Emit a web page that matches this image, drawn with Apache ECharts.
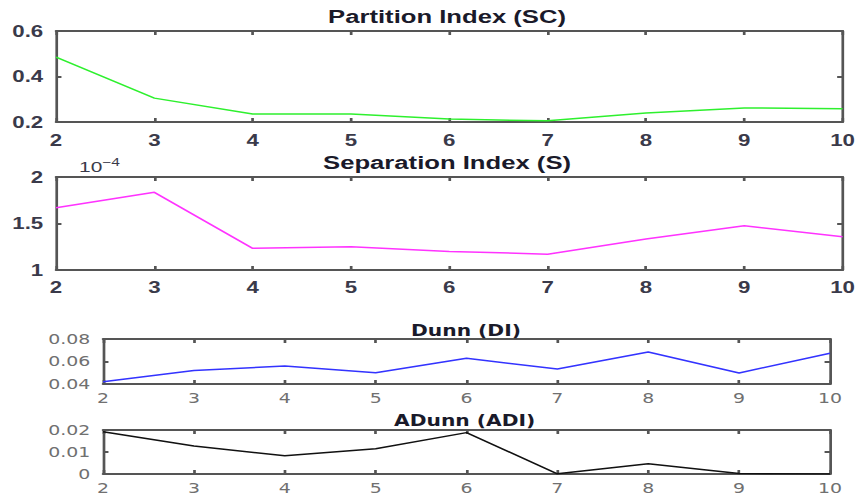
<!DOCTYPE html>
<html><head><meta charset="utf-8">
<script src="https://cdn.jsdelivr.net/npm/echarts@6/dist/echarts.min.js"></script>
<style>
html,body{margin:0;padding:0;background:#fff;overflow:hidden}
#wrap{width:859px;height:502px;overflow:hidden}
#c{width:636px;height:502px;transform:scaleX(1.35063);transform-origin:0 0}
</style>
</head><body><div id="wrap"><div id="c"></div></div>
<script>
const clusters = [2,3,4,5,6,7,8,9,10];
const partitionSC = [0.485,0.305,0.235,0.235,0.213,0.205,0.24,0.262,0.258];
const separationS_e4 = [1.67,1.835,1.233,1.25,1.20,1.17,1.333,1.476,1.358]; // ×10^-4
const dunnDI = [0.042,0.052,0.056,0.050,0.0628,0.0533,0.0684,0.0498,0.0673];
const adunnADI = [0.0192,0.0127,0.0083,0.0115,0.0188,0.0001,0.0047,0.0002,0.0];
const titles = ['Partition Index (SC)','Separation Index (S)','Dunn (DI)','ADunn (ADI)'];
const expLabel = ['10','−4'];

const chart = echarts.init(document.getElementById('c'), null, {renderer:'svg'});
const frame = '#555555';
const topFont = 'Liberation Sans, Arial, sans-serif';
const botFont = 'DejaVu Sans, sans-serif';
const panels = [
  {grid:{left:41.5,right:11,top:31,height:91}, y:[0.2,0.6,0.2], data:partitionSC, color:'#2ef02e',
   label:{fontSize:16.5,color:'#3a3a4a',fontWeight:'bold',fontFamily:topFont}, xm:10, fmt:v=>v.toFixed(1)},
  {grid:{left:41.5,right:11,top:177,height:93}, y:[1,2,0.5], data:separationS_e4, color:'#ff33ff',
   label:{fontSize:16.5,color:'#3a3a4a',fontWeight:'bold',fontFamily:topFont}, xm:9, fmt:v=>String(v)},
  {grid:{left:76.3,right:21.5,top:339,height:45}, y:[0.04,0.08,0.02], data:dunnDI, color:'#3333ff',
   label:{fontSize:14,color:'#707070',fontWeight:'normal',fontFamily:botFont}, xm:7, fmt:v=>v.toFixed(2)},
  {grid:{left:76.3,right:21.5,top:430,height:44}, y:[0,0.02,0.01], data:adunnADI, color:'#111',
   label:{fontSize:14,color:'#707070',fontWeight:'normal',fontFamily:botFont}, xm:7, fmt:v=>v===0?'0':v.toFixed(2)}
];
const grid=[], xAxis=[], yAxis=[], series=[];
panels.forEach((p,i)=>{
  grid.push(Object.assign({containLabel:false}, p.grid));
  const line = {show:true, onZero:false, lineStyle:{color:frame,width:2}};
  const tick = {show:true, inside:true, length:4, lineStyle:{color:frame,width:2}};
  xAxis.push({type:'value', gridIndex:i, min:2, max:10, interval:1, position:'bottom',
    axisLine:line, axisTick:tick, splitLine:{show:false},
    axisLabel:Object.assign({margin:p.xm}, p.label)});
  xAxis.push({type:'value', gridIndex:i, min:2, max:10, interval:1, position:'top',
    axisLine:line, axisTick:tick, splitLine:{show:false}, axisLabel:{show:false}});
  yAxis.push({type:'value', gridIndex:i, min:p.y[0], max:p.y[1], interval:p.y[2], position:'left',
    axisLine:line, axisTick:tick, splitLine:{show:false},
    axisLabel:Object.assign({margin:9.5, formatter:p.fmt}, p.label)});
  yAxis.push({type:'value', gridIndex:i, min:p.y[0], max:p.y[1], interval:p.y[2], position:'right',
    axisLine:line, axisTick:tick, splitLine:{show:false}, axisLabel:{show:false}});
  series.push({type:'line', xAxisIndex:2*i, yAxisIndex:2*i, data:clusters.map((c,k)=>[c,p.data[k]]),
    showSymbol:false, lineStyle:{color:p.color,width:1.5}, itemStyle:{color:p.color}, z:1, silent:true});
});
const tStyle = (fs,ff)=>({fontSize:fs,fontWeight:'bold',color:'#1a1a2a',fontFamily:ff});
const title = [
  {text:titles[0], left:326, top:2, textAlign:'center', textStyle:tStyle(19,topFont)},
  {text:titles[1], left:326, top:148, textAlign:'center', textStyle:tStyle(19,topFont)},
  {text:titles[2], left:340, top:318, textAlign:'center', textStyle:tStyle(15,botFont)},
  {text:titles[3], left:339, top:408, textAlign:'center', textStyle:tStyle(15,botFont)},
  {text:expLabel[0]+'{s|'+expLabel[1]+'}', left:53.5, top:151,
   textStyle:{fontSize:15.5,color:'#3a3a4a',fontWeight:'normal',fontFamily:topFont,
     rich:{s:{fontSize:11.5,color:'#3a3a4a',fontFamily:topFont,verticalAlign:'top',padding:[0,0,9,0]}}}}
];
chart.setOption({animation:false, backgroundColor:'#fff', title, grid, xAxis, yAxis, series});
</script></body></html>
